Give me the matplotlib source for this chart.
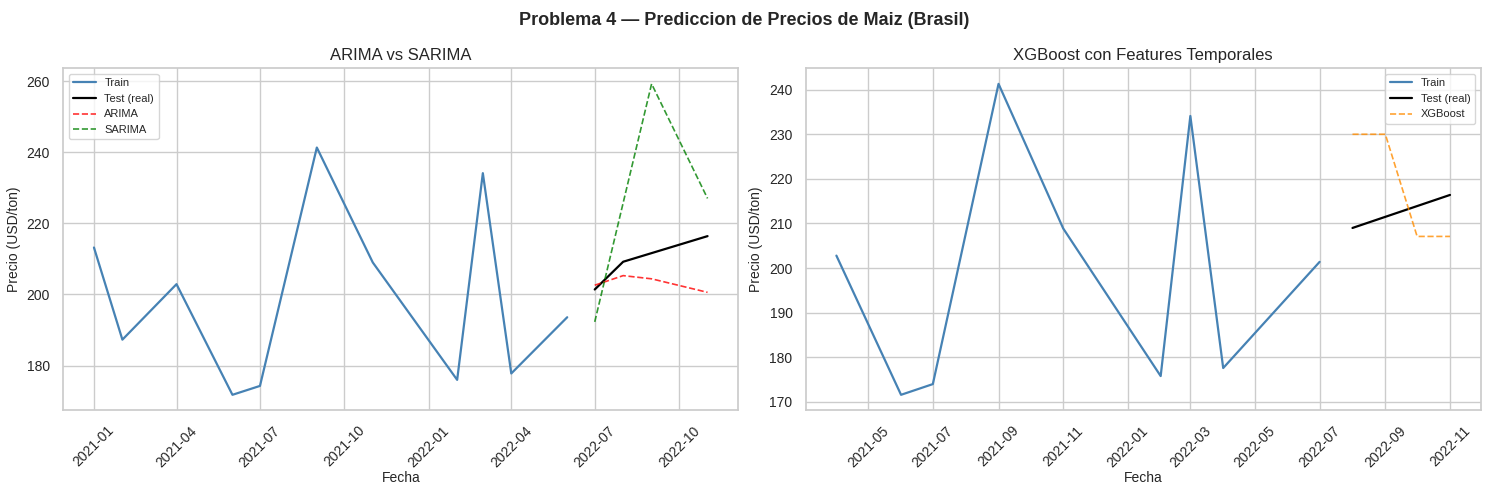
import pandas as pd
import matplotlib.pyplot as plt
import matplotlib.dates as mdates
import seaborn as sns

# ── Config ────────────────────────────────────────────────────────────────────
sns.set_theme(style='whitegrid')
plt.rcParams['font.family'] = ['Liberation Sans', 'DejaVu Sans']

# ── Data ──────────────────────────────────────────────────────────────────────
train_dates = ['2021-01-01', '2021-02-01', '2021-04-01', '2021-06-01', '2021-07-01',
               '2021-09-01', '2021-11-01', '2022-02-01', '2022-03-01', '2022-04-01',
               '2022-06-01']
train_vals  = [213.2, 187.3, 202.9, 171.8, 174.3, 241.3, 209.0, 176.0, 234.1, 177.8, 193.6]

test_dates  = ['2022-07-01', '2022-08-01', '2022-11-01']
test_vals   = [201.4, 209.2, 216.4]

arima_dates = ['2022-07-01', '2022-08-01', '2022-09-01', '2022-11-01']
arima_vals  = [202.6, 205.3, 204.4, 200.6]

sarima_dates = ['2022-07-01', '2022-09-01', '2022-11-01']
sarima_vals  = [192.3, 259.2, 227.0]

# XGBoost panel (lag features drop the first months)
xgb_train_dates = ['2021-04-01', '2021-06-01', '2021-07-01', '2021-09-01', '2021-11-01',
                   '2022-02-01', '2022-03-01', '2022-04-01', '2022-07-01']
xgb_train_vals  = [202.8, 171.6, 174.0, 241.3, 208.9, 175.8, 234.1, 177.6, 201.4]

xgb_test_dates = ['2022-08-01', '2022-11-01']
xgb_test_vals  = [209.0, 216.4]

xgb_pred_dates = ['2022-08-01', '2022-09-01', '2022-10-01', '2022-11-01']
xgb_pred_vals  = [230.0, 230.0, 207.1, 207.1]

def d(x):
    return pd.to_datetime(x)

# ── Figure ────────────────────────────────────────────────────────────────────
fig, axes = plt.subplots(1, 2, figsize=(14.89, 4.95), dpi=100)
fig.suptitle('Problema 4 — Prediccion de Precios de Maiz (Brasil)',
             fontsize=13, fontweight='bold', y=0.975)

ax = axes[0]
ax.plot(d(train_dates), train_vals, color='steelblue', linewidth=1.6, label='Train')
ax.plot(d(test_dates), test_vals, color='black', linewidth=1.6, label='Test (real)')
ax.plot(d(arima_dates), arima_vals, color='red', linestyle='--', alpha=0.8,
        linewidth=1.2, label='ARIMA')
ax.plot(d(sarima_dates), sarima_vals, color='green', linestyle='--', alpha=0.8,
        linewidth=1.2, label='SARIMA')
ax.set_title('ARIMA vs SARIMA', fontsize=12)
ax.xaxis.set_major_locator(mdates.MonthLocator(bymonth=[1, 4, 7, 10]))
ax.xaxis.set_major_formatter(mdates.DateFormatter('%Y-%m'))
ax.legend(fontsize=8, loc='upper left')

ax = axes[1]
ax.plot(d(xgb_train_dates), xgb_train_vals, color='steelblue', linewidth=1.6, label='Train')
ax.plot(d(xgb_test_dates), xgb_test_vals, color='black', linewidth=1.6, label='Test (real)')
ax.plot(d(xgb_pred_dates), xgb_pred_vals, color='darkorange', linestyle='--', alpha=0.8,
        linewidth=1.2, label='XGBoost')
ax.set_title('XGBoost con Features Temporales', fontsize=12)
ax.xaxis.set_major_locator(mdates.MonthLocator(bymonth=[1, 3, 5, 7, 9, 11]))
ax.xaxis.set_major_formatter(mdates.DateFormatter('%Y-%m'))
ax.legend(fontsize=8, loc='upper right')

for ax in axes:
    ax.set_xlabel('Fecha', fontsize=10, labelpad=1)
    ax.set_ylabel('Precio (USD/ton)', fontsize=10)
    ax.tick_params(axis='both', labelsize=10)
    ax.tick_params(axis='x', rotation=45)

plt.subplots_adjust(left=0.0425, right=0.9944, top=0.862, bottom=0.171, wspace=0.1)
plt.savefig('out.png', dpi=100)
